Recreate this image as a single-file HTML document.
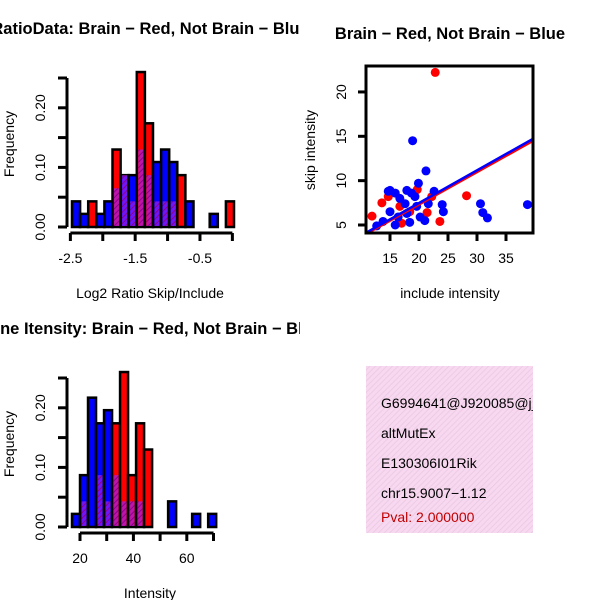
<!DOCTYPE html>
<html><head><meta charset="utf-8"><style>
body{margin:0;background:#fff}
svg{display:block;font-family:"Liberation Sans",sans-serif}
</style></head><body>
<svg id="c" width="600" height="600" viewBox="0 0 600 600">
<defs>
<pattern id="hatch" width="4" height="4" patternUnits="userSpaceOnUse" patternTransform="rotate(45)">
<rect width="4" height="4" fill="#a020f0" opacity="0.7"/><line x1="0" y1="0" x2="0" y2="4" stroke="#8b008b" stroke-width="2"/></pattern>
<pattern id="pink" width="4" height="4" patternUnits="userSpaceOnUse" patternTransform="rotate(45)">
<rect width="4" height="4" fill="#f8d8f0"/><line x1="0" y1="0" x2="0" y2="4" stroke="#e8c8e0" stroke-width="1.5"/></pattern>
<clipPath id="leftClip"><rect x="0" y="0" width="300" height="600"/></clipPath>
<clipPath id="infoClip"><rect x="366" y="366" width="167" height="167"/></clipPath>
</defs>
<g id="g1" clip-path="url(#leftClip)"></g>
<g id="g2"></g>
<g id="g3" clip-path="url(#leftClip)"></g>
<g clip-path="url(#infoClip)">
<rect x="366" y="366" width="167" height="167" fill="url(#pink)"/>
<text x="381" y="408" font-size="14">G6994641@J920085@j_</text>
<text x="381" y="438" font-size="14">altMutEx</text>
<text x="381" y="468" font-size="14">E130306I01Rik</text>
<text x="381" y="498" font-size="14">chr15.9007−1.12</text>
<text x="381" y="522" font-size="14" fill="#c00000">Pval: 2.000000</text>
</g>
</svg>
<script>
// Histogram 1 data (log2 ratio)
const h1Start = -2.475, h1Width = 0.125;
const h1Blue = [0.043,0.022,0,0.022,0.043,0.065,0.087,0.087,0.13,0.087,0.109,0.13,0.109,0,0.043,0,0,0.022,0,0];
const h1Red  = [0,0,0.043,0,0,0.13,0.087,0.043,0.26,0.174,0.043,0.043,0.043,0.087,0,0,0,0,0,0.043];
const h1XTicks = [-2.5,-2,-1.5,-1,-0.5,0];
const h1XLabels = ["-2.5","","-1.5","","-0.5",""];
// Histogram 2 data (intensity)
const h2Start = 17, h2Width = 3;
const h2Blue = [0.022,0.087,0.217,0.174,0.196,0.087,0.043,0.043,0.043,0,0,0,0.043,0,0,0.022,0,0.022];
const h2Red  = [0,0.043,0,0.087,0.043,0.174,0.26,0.087,0.174,0.13,0,0,0,0,0,0,0,0];
const h2XTicks = [20,30,40,50,60,70];
const h2XLabels = ["20","","40","","60",""];
const yTicks = [0,0.05,0.1,0.15,0.2,0.25];
const yLabels = ["0.00","","0.10","","0.20",""];
// Scatter data
const redX = [22.8,11.9,13.6,14.7,28.2,23.6,21.4,19.7,22.2,17,16.7,18.4];
const redY = [22.2,6.0,7.5,8.2,8.3,5.4,6.4,9.0,8.2,5.2,7.1,6.5];
const blueX = [18.9,21.2,19.9,38.7,30.6,31,31.8,24,24.2,22.6,21.6,20.2,21,15,14.7,15.9,17.9,18.7,19.3,15,13.8,12.7,15.9,18.4,16.7,17.6,19.6,16.4,17.9];
const blueY = [14.5,11.1,9.7,7.3,7.4,6.4,5.8,7.3,6.5,8.8,7.4,5.9,5.5,8.9,8.8,8.6,8.9,8.6,8.2,6.5,5.4,4.9,5,5.3,8,7.4,7.1,5.9,6.3];
const sXTicks = [15,20,25,30,35];
const sXLabels = ["15","20","25","30","35"];
const sYTicks = [5,10,15,20];
const fitRed = [0.05,0.365];
const fitBlue = [0.12,0.368];

const NS="http://www.w3.org/2000/svg";
const FS=14;
function mk(p,tag,attrs){const e=document.createElementNS(NS,tag);for(const k in attrs)e.setAttribute(k,attrs[k]);p.appendChild(e);return e;}
function txt(p,x,y,s,attrs){const t=mk(p,'text',Object.assign({x:x,y:y,'font-size':FS},attrs||{}));t.textContent=s;return t;}

function hist(g,top,start,w,blue,red,xt,xl,x0,xPer,title,xlab){
  const y0=top+167, yPer=596;
  const xs=v=>x0+(v-start)*xPer, ys=v=>y0-v*yPer;
  for(let i=0;i<blue.length;i++){
    const b=blue[i], r=red[i]; if(!b&&!r) continue;
    const xa=xs(start+i*w), xb=xs(start+(i+1)*w), mx=Math.max(b,r), mn=Math.min(b,r);
    const col = b>=r?'#0000ff':'#ff0000';
    const bar=mk(g,'rect',{x:xa,y:ys(mx),width:xb-xa,height:ys(0)-ys(mx),fill:col,stroke:'#000','stroke-width':2.5});
    
    
    if(mn>0){const o=mk(g,'rect',{x:xa+1.5,y:ys(mn),width:xb-xa-3,height:ys(0)-ys(mn)-1,fill:'url(#hatch)'});
      
      }
  }
  mk(g,'line',{x1:67,y1:ys(0),x2:67,y2:ys(0.25),stroke:'#000','stroke-width':3});
  yTicks.forEach((v,i)=>{mk(g,'line',{x1:58,y1:ys(v),x2:67,y2:ys(v),stroke:'#000','stroke-width':3});
    if(yLabels[i]){const t=txt(g,45,ys(v),yLabels[i],{'text-anchor':'middle',transform:`rotate(-90 45 ${ys(v)})`});
      
      }});
  const xb=top+173;
  mk(g,'line',{x1:xs(xt[0]),y1:xb,x2:xs(xt[xt.length-1]),y2:xb,stroke:'#000','stroke-width':3});
  xt.forEach((v,i)=>{mk(g,'line',{x1:xs(v),y1:xb,x2:xs(v),y2:xb+8,stroke:'#000','stroke-width':3});
    if(xl[i]){const t=txt(g,xs(v),top+203,xl[i],{'text-anchor':'middle'});
      
      }});
  const tt=txt(g,150,top-26,title,{'text-anchor':'middle','font-weight':'bold','font-size':16.5});
  
  
  const xa=txt(g,150,top+238,xlab,{'text-anchor':'middle'});
  
  
  const ya=txt(g,14,top+84,'Frequency',{'text-anchor':'middle',transform:`rotate(-90 14 ${top+84})`});
  
  
}
hist(document.getElementById('g1'),60,h1Start,h1Width,h1Blue,h1Red,h1XTicks,h1XLabels,72,64.8,'RatioData: Brain − Red, Not Brain − Blue','Log2 Ratio Skip/Include');
hist(document.getElementById('g3'),360,h2Start,h2Width,h2Blue,h2Red,h2XTicks,h2XLabels,72,2.67,'Gene Itensity: Brain − Red, Not Brain − Blue','Intensity');

(function(){
  const g=document.getElementById('g2');
  const sx=v=>390+(v-15)*5.8, sy=v=>225-(v-5)*8.87;
  const L=366,R=533,T=66,B=233, xmin=(L-390)/5.8+15, xmax=(R-390)/5.8+15;
  const clip=mk(g,'clipPath',{id:'sc'}); mk(clip,'rect',{x:L,y:T,width:R-L,height:B-T});
  const pg=mk(g,'g',{'clip-path':'url(#sc)'});
  redX.forEach((x,i)=>{const c=mk(pg,'circle',{cx:sx(x),cy:sy(redY[i]),r:4.5,fill:'#ff0000'});
    
    });
  blueX.forEach((x,i)=>{const c=mk(pg,'circle',{cx:sx(x),cy:sy(blueY[i]),r:4.5,fill:'#0000ff'});
    
    });
  const lr=mk(pg,'line',{x1:sx(xmin),y1:sy(fitRed[0]+fitRed[1]*xmin),x2:sx(xmax),y2:sy(fitRed[0]+fitRed[1]*xmax),stroke:'#ff0000','stroke-width':3});
  
  
  const lb=mk(pg,'line',{x1:sx(xmin),y1:sy(fitBlue[0]+fitBlue[1]*xmin),x2:sx(xmax),y2:sy(fitBlue[0]+fitBlue[1]*xmax),stroke:'#0000ff','stroke-width':2.5});
  
  
  mk(g,'rect',{x:L,y:T,width:R-L,height:B-T,fill:'none',stroke:'#000','stroke-width':3});
  sXTicks.forEach((v,i)=>{mk(g,'line',{x1:sx(v),y1:B,x2:sx(v),y2:B+8,stroke:'#000','stroke-width':3});
    const t=txt(g,sx(v),263,sXLabels[i],{'text-anchor':'middle'});
    
    });
  sYTicks.forEach(v=>{mk(g,'line',{x1:L-8,y1:sy(v),x2:L,y2:sy(v),stroke:'#000','stroke-width':3});
    const t=txt(g,346,sy(v),String(v),{'text-anchor':'middle',transform:`rotate(-90 346 ${sy(v)})`});
    
    });
  const tt=txt(g,450,39,'Brain − Red, Not Brain − Blue',{'text-anchor':'middle','font-weight':'bold','font-size':16.5});
  
  
  const xa=txt(g,450,298,'include intensity',{'text-anchor':'middle'});
  
  
  const ya=txt(g,315,150,'skip intensity',{'text-anchor':'middle',transform:'rotate(-90 315 150)'});
  
  
})();
</script>
</body></html>
